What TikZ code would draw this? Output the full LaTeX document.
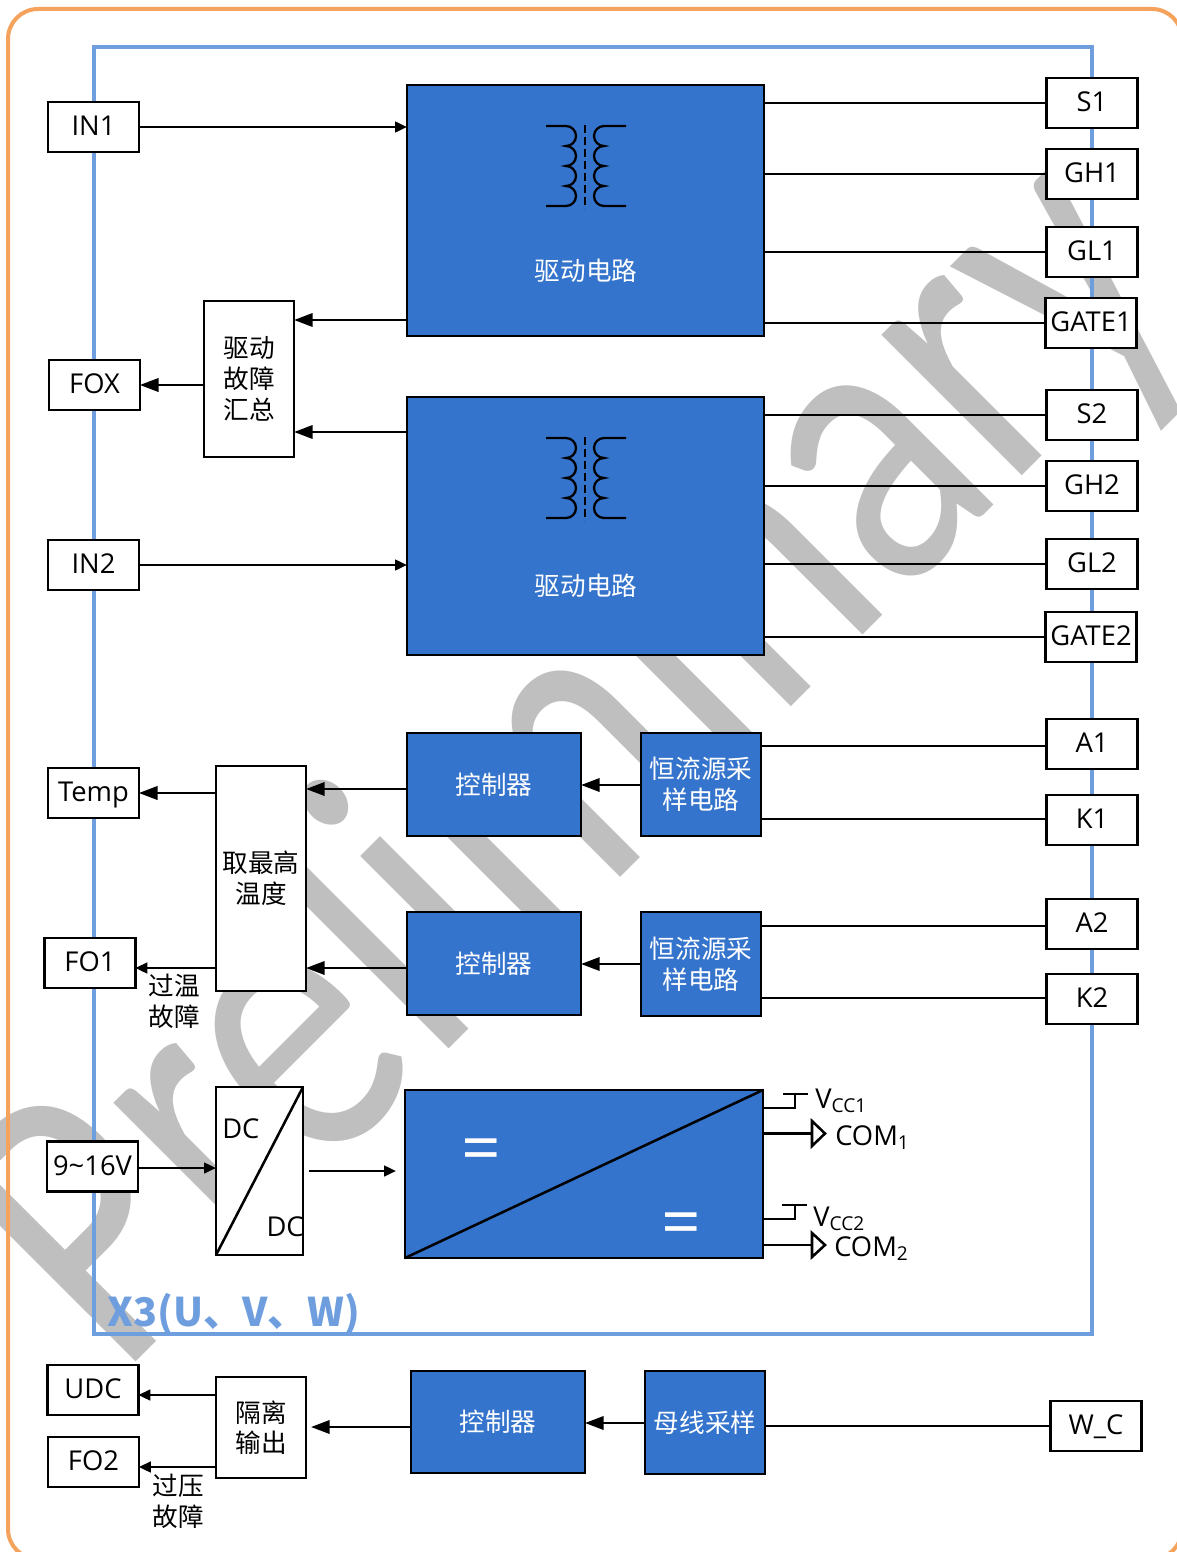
\documentclass[tikz,border=0pt]{standalone}
\usepackage{fontspec}
\setmainfont{Open Sans}
\newfontfamily\cjkfont{Noto Sans CJK SC}
\newfontfamily\markfont[FakeStretch=0.786]{Carlito}
\usepackage{tikz}
\usetikzlibrary{arrows.meta}
\definecolor{rimorange}{HTML}{F5A25D}
\definecolor{frameblue}{HTML}{6F9EDE}
\definecolor{boxblue}{HTML}{3574CC}
\definecolor{markgray}{HTML}{BFBFBF}
\tikzset{
  plainbox/.style={draw=black,line width=1.9pt,inner sep=0pt,outer sep=0pt,align=center},
  termbox/.style={plainbox,fill=white,minimum width=68pt,minimum height=37.5pt,text height=14pt,text depth=1.2pt,font=\fontsize{20.5}{23}\selectfont},
  whitebox/.style={plainbox,fill=white,font=\fontsize{19.2}{23}\cjkfont},
  bluebox/.style={plainbox,fill=boxblue,text=white,font=\fontsize{19.2}{23}\cjkfont},
  boxsize/.style 2 args={minimum width=#1*0.75pt,minimum height=#2*0.75pt},
  wire/.style={draw=black,line width=1.9pt},
  smalltip/.style={wire,-{Triangle[length=9pt,width=8pt]}},
  bigtip/.style={wire,-{Triangle[length=14pt,width=10pt]}},
  coil/.style={draw=black,line width=1.7pt},
  textlabel/.style={inner sep=0pt,align=center,font=\fontsize{20.5}{23}\selectfont},
  cjklabel/.style={inner sep=0pt,align=center,font=\fontsize{19.2}{23}\cjkfont}
}
\begin{document}
\begin{tikzpicture}[x=0.75pt,y=-0.75pt]
    \useasboundingbox (0,0) rectangle (1177,1552);
    \draw (119.5,1378.5) node[anchor=base west,rotate=45,inner sep=0pt,text=markgray,font=\fontsize{312}{312}\markfont] (watermark) {Preliminary};
    \draw [rimorange,line width=3pt,rounded corners=22.5pt] (8,9) rectangle (1182,1559);
    \draw [frameblue,line width=3pt] (94,47) rectangle (1092,1334);
    \draw (107,1314) node[anchor=west,inner sep=0pt,text=frameblue,font=\fontsize{29.6}{32}\bfseries\cjkfont] (title) {X3(U、V、W)};

    \draw (585.5,210.5) node[bluebox,boxsize={357}{251}] (drv1) {};
    \draw (585.5,526) node[bluebox,boxsize={357}{258}] (drv2) {};
    \draw (586,271) node[cjklabel,text=white] (drv1text) {驱动电路};
    \draw (586,586) node[cjklabel,text=white] (drv2text) {驱动电路};
    \foreach \dy in {0,312} {
      \draw [coil] (546,126+\dy) -- (566,126+\dy) arc (-90:90:10) arc (-90:90:10) arc (-90:90:10) arc (-90:90:10) -- (546,206+\dy);
      \draw [coil] (626,126+\dy) -- (604,126+\dy) arc (-90:-270:10) arc (-90:-270:10) arc (-90:-270:10) arc (-90:-270:10) -- (626,206+\dy);
      \draw [coil,line width=1.2pt,dash pattern=on 6pt off 3pt] (585,125+\dy) -- (585,209+\dy);
    }

    \draw (249,379) node[whitebox,boxsize={90}{156}] (faultsum) {驱动\\故障\\汇总};
    \draw (261,878.5) node[whitebox,boxsize={90}{225}] (maxtemp) {取最高\\温度};
    \draw (259.5,1171) node[plainbox,fill=white,boxsize={87}{168}] (dcbox) {};
    \draw (261,1427.5) node[whitebox,boxsize={90}{101}] (isolate) {隔离\\输出};

    \draw (494,784.5) node[bluebox,boxsize={174}{103}] (ctrl1) {控制器};
    \draw (494,963.5) node[bluebox,boxsize={174}{103}] (ctrl2) {控制器};
    \draw (498,1422) node[bluebox,boxsize={174}{102}] (ctrl3) {控制器};
    \draw (701,784.5) node[bluebox,boxsize={120}{103}] (sense1) {恒流源采\\样电路};
    \draw (701,964) node[bluebox,boxsize={120}{104}] (sense2) {恒流源采\\样电路};
    \draw (705,1422.5) node[bluebox,boxsize={120}{103}] (bus) {母线采样};
    \draw (584,1174) node[plainbox,fill=boxblue,boxsize={358}{168}] (bigdc) {};

    \draw (93.5,127) node[termbox] (in1) {IN1};
    \draw (94.5,385) node[termbox] (fox) {FOX};
    \draw (93.5,565) node[termbox] (in2) {IN2};
    \draw (93.5,793) node[termbox] (temp) {Temp};
    \draw (90,963) node[termbox] (fo1) {FO1};
    \draw (92.5,1166.5) node[termbox] (vin) {9\textasciitilde16V};
    \draw (93,1390) node[termbox] (udc) {UDC};
    \draw (93.5,1462) node[termbox] (fo2) {FO2};
    \draw (1092,103) node[termbox] (s1) {S1};
    \draw (1092,174) node[termbox] (gh1) {GH1};
    \draw (1092,252) node[termbox] (gl1) {GL1};
    \draw (1091,323) node[termbox] (gate1) {GATE1};
    \draw (1092,415) node[termbox] (s2) {S2};
    \draw (1092,486) node[termbox] (gh2) {GH2};
    \draw (1092,564) node[termbox] (gl2) {GL2};
    \draw (1091,637) node[termbox] (gate2) {GATE2};
    \draw (1092,744) node[termbox] (a1) {A1};
    \draw (1092,820) node[termbox] (k1) {K1};
    \draw (1092,924) node[termbox] (a2) {A2};
    \draw (1092,999) node[termbox] (k2) {K2};
    \draw (1096,1426) node[termbox] (wc) {W\_C};

    \draw [wire] (dcbox.south west) -- (dcbox.north east);
    \draw [wire] (bigdc.south west) -- (bigdc.north east);
    \draw (222,1129) node[textlabel,anchor=west] (dctop) {DC};
    \draw (304,1227) node[textlabel,anchor=east] (dcbottom) {DC};
    \draw (481,1156) node[inner sep=0pt,text=white,font=\fontsize{52}{52}\selectfont] (equalin) {=};
    \draw (681,1230) node[inner sep=0pt,text=white,font=\fontsize{52}{52}\selectfont] (equalout) {=};
    \draw (174,1001) node[cjklabel] (overtemp) {过温\\故障};
    \draw (178,1501) node[cjklabel] (overvolt) {过压\\故障};

    \draw [smalltip] (in1) -- (drv1.west |- in1);
    \draw [smalltip] (in2) -- (drv2.west |- in2);
    \draw [wire] (drv1.east |- s1) -- (s1);
    \draw [wire] (drv1.east |- gh1) -- (gh1);
    \draw [wire] (drv1.east |- gl1) -- (gl1);
    \draw [wire] (drv1.east |- gate1) -- (gate1);
    \draw [wire] (drv2.east |- s2) -- (s2);
    \draw [wire] (drv2.east |- gh2) -- (gh2);
    \draw [wire] (drv2.east |- gl2) -- (gl2);
    \draw [wire] (drv2.east |- gate2) -- (gate2);

    \coordinate (fault1) at (0,320);
    \coordinate (fault2) at (0,432);
    \draw [bigtip] (drv1.west |- fault1) -- (faultsum.east |- fault1);
    \draw [bigtip] (drv2.west |- fault2) -- (faultsum.east |- fault2);
    \draw [bigtip] (faultsum.west |- fox) -- (fox);

    \coordinate (hot1) at (0,789);
    \coordinate (hot2) at (0,968);
    \coordinate (sensed1) at (0,785);
    \coordinate (sensed2) at (0,964);
    \coordinate (a1y) at (0,746);
    \coordinate (a2y) at (0,926);
    \coordinate (k1y) at (0,819);
    \coordinate (k2y) at (0,998);
    \draw [bigtip] (ctrl1.west |- hot1) -- (maxtemp.east |- hot1);
    \draw [bigtip] (ctrl2.west |- hot2) -- (maxtemp.east |- hot2);
    \draw [bigtip] (sense1.west |- sensed1) -- (ctrl1.east |- sensed1);
    \draw [bigtip] (sense2.west |- sensed2) -- (ctrl2.east |- sensed2);
    \draw [wire] (sense1.east |- a1y) -- (a1.west |- a1y);
    \draw [wire] (sense1.east |- k1y) -- (k1.west |- k1y);
    \draw [wire] (sense2.east |- a2y) -- (a2.west |- a2y);
    \draw [wire] (sense2.east |- k2y) -- (k2.west |- k2y);
    \draw [bigtip] (maxtemp.west |- temp) -- (temp);
    \draw [smalltip] (maxtemp.west |- hot2) -- (fo1.east |- hot2);

    \coordinate (vinin) at (0,1168);
    \coordinate (dcout) at (309,1171);
    \coordinate (bigin) at (396,1171);
    \draw [smalltip] (vin.east |- vinin) -- (dcbox.west |- vinin);
    \draw [smalltip] (dcout) -- (bigin);

    \coordinate (vcc1) at (795,1108);
    \coordinate (vcc1top) at (795,1094);
    \coordinate (vcc2) at (795,1219);
    \coordinate (vcc2top) at (795,1205);
    \coordinate (com1) at (812,1133.5);
    \coordinate (com2) at (812,1245);
    \draw [wire] (bigdc.east |- vcc1) -- (vcc1) -- (vcc1top);
    \draw [wire] (bigdc.east |- vcc2) -- (vcc2) -- (vcc2top);
    \draw [wire] (783,1094) -- (808,1094);
    \draw [wire] (782,1205) -- (807,1205);
    \draw [wire] (bigdc.east |- com1) -- (com1);
    \draw [wire] (bigdc.east |- com2) -- (com2);
    \draw [wire] (812,1121) -- (825,1133.5) -- (812,1146) -- cycle;
    \draw [wire] (812,1233) -- (825,1245) -- (812,1257) -- cycle;
    \draw (815,1108) node[textlabel,anchor=base west] (vcc1text) {V\textsubscript{CC1}};
    \draw (835,1145) node[textlabel,anchor=base west] (com1text) {COM\textsubscript{1}};
    \draw (813,1226) node[textlabel,anchor=base west] (vcc2text) {V\textsubscript{CC2}};
    \draw (834,1256) node[textlabel,anchor=base west] (com2text) {COM\textsubscript{2}};

    \coordinate (udcy) at (0,1395);
    \coordinate (fo2y) at (0,1467);
    \coordinate (isoin) at (311,1427);
    \coordinate (busout) at (0,1423);
    \draw [smalltip] (isolate.west |- udcy) -- (udc.east |- udcy);
    \draw [smalltip] (isolate.west |- fo2y) -- (fo2.east |- fo2y);
    \draw [bigtip] (ctrl3.west |- isoin) -- (isoin);
    \draw [bigtip] (bus.west |- busout) -- (ctrl3.east |- busout);
    \draw [wire] (bus.east |- wc) -- (wc);
\end{tikzpicture}
\end{document}
